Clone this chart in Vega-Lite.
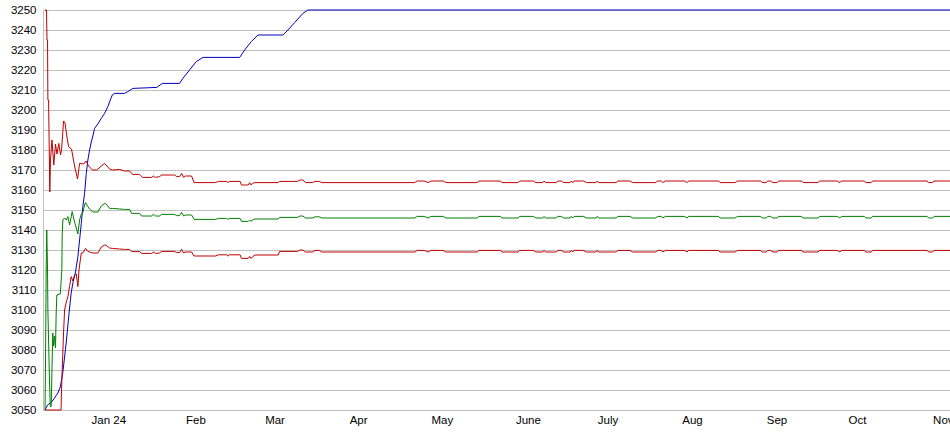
{
  "$schema": "https://vega.github.io/schema/vega-lite/v6.json",
  "autosize": {"type": "none"},
  "padding": {"left": 43, "top": 10, "right": 0, "bottom": 25},
  "width": 907,
  "height": 400,
  "background": "#ffffff",
  "config": {
    "view": {"stroke": null},
    "axis": {"labelFont": "Liberation Sans", "labelFontSize": 11.5, "labelColor": "#000000", "ticks": false, "tickSize": 0, "domainColor": "#c0c0c0", "gridColor": "#c0c0c0", "gridWidth": 1, "title": null}
  },
  "datasets": {
    "early": [
      {"s":"b","d":"2023-12-11T11:00Z","v":3050},
      {"s":"b","d":"2023-12-12T09:00Z","v":3052.5},
      {"s":"b","d":"2023-12-13T20:00Z","v":3054},
      {"s":"b","d":"2023-12-14T22:00Z","v":3056},
      {"s":"b","d":"2023-12-16T04:00Z","v":3058.5},
      {"s":"b","d":"2023-12-17T01:00Z","v":3061.5},
      {"s":"b","d":"2023-12-17T12:00Z","v":3065},
      {"s":"b","d":"2023-12-18T00:00Z","v":3069},
      {"s":"b","d":"2023-12-18T15:00Z","v":3076.5},
      {"s":"b","d":"2023-12-19T06:00Z","v":3084},
      {"s":"b","d":"2023-12-19T20:00Z","v":3092.5},
      {"s":"b","d":"2023-12-20T11:00Z","v":3101},
      {"s":"b","d":"2023-12-21T01:00Z","v":3108.5},
      {"s":"b","d":"2023-12-21T16:00Z","v":3113.5},
      {"s":"b","d":"2023-12-22T15:00Z","v":3119},
      {"s":"b","d":"2023-12-23T12:00Z","v":3126.7},
      {"s":"b","d":"2023-12-24T03:00Z","v":3135},
      {"s":"b","d":"2023-12-24T18:00Z","v":3143.3},
      {"s":"b","d":"2023-12-25T08:00Z","v":3151.7},
      {"s":"b","d":"2023-12-25T23:00Z","v":3158.3},
      {"s":"b","d":"2023-12-26T14:00Z","v":3168.3},
      {"s":"b","d":"2023-12-27T04:00Z","v":3175},
      {"s":"b","d":"2023-12-27T19:00Z","v":3180},
      {"s":"b","d":"2023-12-28T10:00Z","v":3184},
      {"s":"b","d":"2023-12-29T00:00Z","v":3187},
      {"s":"b","d":"2023-12-29T15:00Z","v":3190.8},
      {"s":"b","d":"2023-12-30T20:00Z","v":3193},
      {"s":"b","d":"2024-01-01T02:00Z","v":3195.8},
      {"s":"b","d":"2024-01-02T07:00Z","v":3198.3},
      {"s":"b","d":"2024-01-03T12:00Z","v":3201.7},
      {"s":"b","d":"2024-01-04T09:00Z","v":3205},
      {"s":"b","d":"2024-01-05T03:00Z","v":3207.5},
      {"s":"b","d":"2024-01-05T23:00Z","v":3208.3},
      {"s":"b","d":"2024-01-09T15:00Z","v":3208.3},
      {"s":"b","d":"2024-01-10T20:00Z","v":3209.2},
      {"s":"b","d":"2024-01-12T16:00Z","v":3210.8},
      {"s":"b","d":"2024-01-21T11:00Z","v":3211.3},
      {"s":"b","d":"2024-01-23T11:00Z","v":3213.3},
      {"s":"b","d":"2024-01-29T19:00Z","v":3213.3},
      {"s":"b","d":"2024-01-31T00:00Z","v":3215.8},
      {"s":"b","d":"2024-02-02T11:00Z","v":3220},
      {"s":"b","d":"2024-02-04T22:00Z","v":3224.2},
      {"s":"b","d":"2024-02-07T09:00Z","v":3226.3},
      {"s":"b","d":"2024-02-20T20:00Z","v":3226.3},
      {"s":"b","d":"2024-02-22T16:00Z","v":3230},
      {"s":"b","d":"2024-02-25T03:00Z","v":3234.2},
      {"s":"b","d":"2024-02-27T13:00Z","v":3237.5},
      {"s":"b","d":"2024-03-07T17:00Z","v":3237.5},
      {"s":"b","d":"2024-03-09T13:00Z","v":3240},
      {"s":"b","d":"2024-03-12T00:00Z","v":3243.7},
      {"s":"b","d":"2024-03-15T01:00Z","v":3248.3},
      {"s":"b","d":"2024-03-16T21:00Z","v":3250},
      {"s":"b","d":"2024-11-08T00:00Z","v":3250},

      {"s":"u","d":"2023-12-11T09:00Z","v":3250},
      {"s":"u","d":"2023-12-12T00:00Z","v":3250},
      {"s":"u","d":"2023-12-12T04:00Z","v":3235},
      {"s":"u","d":"2023-12-12T09:00Z","v":3235},
      {"s":"u","d":"2023-12-12T12:00Z","v":3205},
      {"s":"u","d":"2023-12-12T18:00Z","v":3205},
      {"s":"u","d":"2023-12-13T05:00Z","v":3159},
      {"s":"u","d":"2023-12-13T11:00Z","v":3175},
      {"s":"u","d":"2023-12-14T00:00Z","v":3185},
      {"s":"u","d":"2023-12-14T16:00Z","v":3172.5},
      {"s":"u","d":"2023-12-15T07:00Z","v":3183},
      {"s":"u","d":"2023-12-15T20:00Z","v":3178},
      {"s":"u","d":"2023-12-16T12:00Z","v":3183.3},
      {"s":"u","d":"2023-12-17T03:00Z","v":3177.5},
      {"s":"u","d":"2023-12-17T12:00Z","v":3179.7},
      {"s":"u","d":"2023-12-18T06:00Z","v":3194.5},
      {"s":"u","d":"2023-12-18T19:00Z","v":3193.5},
      {"s":"u","d":"2023-12-19T13:00Z","v":3186},
      {"s":"u","d":"2023-12-20T02:00Z","v":3181.7},
      {"s":"u","d":"2023-12-21T04:00Z","v":3180.5},
      {"s":"u","d":"2023-12-22T07:00Z","v":3172},
      {"s":"u","d":"2023-12-23T09:00Z","v":3165.5},
      {"s":"u","d":"2023-12-24T03:00Z","v":3173.3},
      {"s":"u","d":"2023-12-25T14:00Z","v":3173},
      {"s":"u","d":"2023-12-26T12:00Z","v":3174.5},
      {"s":"u","d":"2023-12-27T10:00Z","v":3172},
      {"s":"u","d":"2023-12-28T21:00Z","v":3170},
      {"s":"u","d":"2023-12-30T08:00Z","v":3170},
      {"s":"u","d":"2023-12-31T06:00Z","v":3171},
      {"s":"u","d":"2024-01-02T07:00Z","v":3173.3},
      {"s":"u","d":"2024-01-04T03:00Z","v":3170.5},
      {"s":"u","d":"2024-01-05T05:00Z","v":3170},
      {"s":"u","d":"2024-01-07T19:00Z","v":3170.3},
      {"s":"u","d":"2024-01-09T15:00Z","v":3169.5},
      {"s":"u","d":"2024-01-11T11:00Z","v":3169.5},
      {"s":"u","d":"2024-01-12T13:00Z","v":3167.8},
      {"s":"u","d":"2024-01-15T03:00Z","v":3167.8},
      {"s":"u","d":"2024-01-16T05:00Z","v":3166.3},
      {"s":"u","d":"2024-01-19T13:00Z","v":3166.3},
      {"s":"u","d":"2024-01-20T06:00Z","v":3167},
      {"s":"u","d":"2024-01-21T00:00Z","v":3166.3},
      {"s":"u","d":"2024-01-22T11:00Z","v":3166.7},
      {"s":"u","d":"2024-01-23T05:00Z","v":3167.5},
      {"s":"u","d":"2024-01-28T00:00Z","v":3167.5},
      {"s":"u","d":"2024-01-28T17:00Z","v":3166.7},
      {"s":"u","d":"2024-01-29T19:00Z","v":3166.7},
      {"s":"u","d":"2024-01-30T13:00Z","v":3168.3},
      {"s":"u","d":"2024-01-31T07:00Z","v":3166.3},
      {"s":"u","d":"2024-02-01T00:00Z","v":3167},
      {"s":"u","d":"2024-02-03T05:00Z","v":3167},
      {"s":"u","d":"2024-02-04T03:00Z","v":3163.7},

      {"s":"m","d":"2023-12-11T11:00Z","v":3050},
      {"s":"m","d":"2023-12-11T15:00Z","v":3072},
      {"s":"m","d":"2023-12-11T21:00Z","v":3120},
      {"s":"m","d":"2023-12-12T02:00Z","v":3140},
      {"s":"m","d":"2023-12-12T09:00Z","v":3120},
      {"s":"m","d":"2023-12-12T12:00Z","v":3100},
      {"s":"m","d":"2023-12-13T02:00Z","v":3065},
      {"s":"m","d":"2023-12-13T09:00Z","v":3051.7},
      {"s":"m","d":"2023-12-13T17:00Z","v":3051.7},
      {"s":"m","d":"2023-12-14T07:00Z","v":3088.5},
      {"s":"m","d":"2023-12-14T14:00Z","v":3082},
      {"s":"m","d":"2023-12-14T22:00Z","v":3087},
      {"s":"m","d":"2023-12-15T07:00Z","v":3081},
      {"s":"m","d":"2023-12-15T13:00Z","v":3098.5},
      {"s":"m","d":"2023-12-15T19:00Z","v":3107.5},
      {"s":"m","d":"2023-12-17T01:00Z","v":3108},
      {"s":"m","d":"2023-12-17T15:00Z","v":3120},
      {"s":"m","d":"2023-12-17T18:00Z","v":3138},
      {"s":"m","d":"2023-12-18T00:00Z","v":3145},
      {"s":"m","d":"2023-12-18T15:00Z","v":3146},
      {"s":"m","d":"2023-12-19T06:00Z","v":3145},
      {"s":"m","d":"2023-12-19T20:00Z","v":3146.7},
      {"s":"m","d":"2023-12-20T11:00Z","v":3142.5},
      {"s":"m","d":"2023-12-21T10:00Z","v":3149.2},
      {"s":"m","d":"2023-12-22T07:00Z","v":3144},
      {"s":"m","d":"2023-12-22T22:00Z","v":3141},
      {"s":"m","d":"2023-12-23T12:00Z","v":3138},
      {"s":"m","d":"2023-12-24T03:00Z","v":3145},
      {"s":"m","d":"2023-12-24T18:00Z","v":3148},
      {"s":"m","d":"2023-12-25T08:00Z","v":3148.7},
      {"s":"m","d":"2023-12-25T23:00Z","v":3152.5},
      {"s":"m","d":"2023-12-26T07:00Z","v":3153.7},
      {"s":"m","d":"2023-12-27T04:00Z","v":3151.7},
      {"s":"m","d":"2023-12-27T19:00Z","v":3150.5},
      {"s":"m","d":"2023-12-29T00:00Z","v":3149},
      {"s":"m","d":"2023-12-30T20:00Z","v":3149},
      {"s":"m","d":"2024-01-01T02:00Z","v":3152},
      {"s":"m","d":"2024-01-02T07:00Z","v":3153.3},
      {"s":"m","d":"2024-01-02T22:00Z","v":3153},
      {"s":"m","d":"2024-01-04T03:00Z","v":3150.8},
      {"s":"m","d":"2024-01-05T05:00Z","v":3150.8},
      {"s":"m","d":"2024-01-07T19:00Z","v":3150.5},
      {"s":"m","d":"2024-01-09T15:00Z","v":3150.3},
      {"s":"m","d":"2024-01-11T11:00Z","v":3150.3},
      {"s":"m","d":"2024-01-12T05:00Z","v":3148.3},
      {"s":"m","d":"2024-01-15T03:00Z","v":3148.3},
      {"s":"m","d":"2024-01-15T21:00Z","v":3147},
      {"s":"m","d":"2024-01-19T13:00Z","v":3147},
      {"s":"m","d":"2024-01-20T06:00Z","v":3147.8},
      {"s":"m","d":"2024-01-21T00:00Z","v":3147},
      {"s":"m","d":"2024-01-22T11:00Z","v":3147},
      {"s":"m","d":"2024-01-23T05:00Z","v":3147.8},
      {"s":"m","d":"2024-01-28T00:00Z","v":3147.8},
      {"s":"m","d":"2024-01-28T17:00Z","v":3147.2},
      {"s":"m","d":"2024-01-29T19:00Z","v":3147.2},
      {"s":"m","d":"2024-01-30T13:00Z","v":3148.8},
      {"s":"m","d":"2024-01-31T07:00Z","v":3147},
      {"s":"m","d":"2024-02-01T00:00Z","v":3147.5},
      {"s":"m","d":"2024-02-03T05:00Z","v":3147.5},
      {"s":"m","d":"2024-02-04T03:00Z","v":3145.3},

      {"s":"l","d":"2023-12-11T09:00Z","v":3050},
      {"s":"l","d":"2023-12-17T08:00Z","v":3050},
      {"s":"l","d":"2023-12-17T11:00Z","v":3057.5},
      {"s":"l","d":"2023-12-17T18:00Z","v":3070},
      {"s":"l","d":"2023-12-18T06:00Z","v":3088.5},
      {"s":"l","d":"2023-12-18T15:00Z","v":3100},
      {"s":"l","d":"2023-12-19T06:00Z","v":3104},
      {"s":"l","d":"2023-12-19T20:00Z","v":3106.7},
      {"s":"l","d":"2023-12-20T11:00Z","v":3111.7},
      {"s":"l","d":"2023-12-21T01:00Z","v":3116.7},
      {"s":"l","d":"2023-12-21T16:00Z","v":3114.5},
      {"s":"l","d":"2023-12-22T07:00Z","v":3117.5},
      {"s":"l","d":"2023-12-22T22:00Z","v":3118},
      {"s":"l","d":"2023-12-23T12:00Z","v":3111.7},
      {"s":"l","d":"2023-12-23T22:00Z","v":3120},
      {"s":"l","d":"2023-12-24T07:00Z","v":3124},
      {"s":"l","d":"2023-12-24T18:00Z","v":3128.5},
      {"s":"l","d":"2023-12-25T08:00Z","v":3128.5},
      {"s":"l","d":"2023-12-25T23:00Z","v":3130},
      {"s":"l","d":"2023-12-26T07:00Z","v":3130.8},
      {"s":"l","d":"2023-12-27T04:00Z","v":3129.3},
      {"s":"l","d":"2023-12-29T00:00Z","v":3128.5},
      {"s":"l","d":"2023-12-30T20:00Z","v":3128.5},
      {"s":"l","d":"2024-01-01T02:00Z","v":3131.5},
      {"s":"l","d":"2024-01-02T07:00Z","v":3132.5},
      {"s":"l","d":"2024-01-02T22:00Z","v":3132.3},
      {"s":"l","d":"2024-01-04T03:00Z","v":3131},
      {"s":"l","d":"2024-01-05T05:00Z","v":3130.8},
      {"s":"l","d":"2024-01-07T19:00Z","v":3130.5},
      {"s":"l","d":"2024-01-09T15:00Z","v":3130.3},
      {"s":"l","d":"2024-01-11T11:00Z","v":3130.3},
      {"s":"l","d":"2024-01-12T05:00Z","v":3129.2},
      {"s":"l","d":"2024-01-15T03:00Z","v":3129.2},
      {"s":"l","d":"2024-01-15T21:00Z","v":3128.3},
      {"s":"l","d":"2024-01-19T13:00Z","v":3128.3},
      {"s":"l","d":"2024-01-20T06:00Z","v":3129},
      {"s":"l","d":"2024-01-21T00:00Z","v":3128.3},
      {"s":"l","d":"2024-01-22T11:00Z","v":3128.5},
      {"s":"l","d":"2024-01-23T05:00Z","v":3129.3},
      {"s":"l","d":"2024-01-28T00:00Z","v":3129.3},
      {"s":"l","d":"2024-01-28T17:00Z","v":3128.7},
      {"s":"l","d":"2024-01-29T19:00Z","v":3128.7},
      {"s":"l","d":"2024-01-30T13:00Z","v":3130.3},
      {"s":"l","d":"2024-01-31T07:00Z","v":3128.5},
      {"s":"l","d":"2024-02-01T00:00Z","v":3129},
      {"s":"l","d":"2024-02-03T05:00Z","v":3129},
      {"s":"l","d":"2024-02-04T03:00Z","v":3127}
    ],
    "flat": [
      {"d":"2024-02-04T03:00Z","u":3163.7,"m":3145.3,"l":3127},
      {"d":"2024-02-12T00:00Z","u":3163.7,"m":3145.3,"l":3127},
      {"d":"2024-02-13T00:00Z","u":3164.3,"m":3145.8,"l":3127.6},
      {"d":"2024-02-16T00:00Z","u":3164.3,"m":3145.8,"l":3127.6},
      {"d":"2024-02-16T12:00Z","u":3163.7,"m":3145.3,"l":3127},
      {"d":"2024-02-17T00:00Z","u":3164.3,"m":3145.8,"l":3127.6},
      {"d":"2024-02-21T00:00Z","u":3164.3,"m":3145.8,"l":3127.6},
      {"d":"2024-02-21T12:00Z","u":3162.5,"m":3144.3,"l":3125.8},
      {"d":"2024-02-24T00:00Z","u":3162.5,"m":3144.3,"l":3125.8},
      {"d":"2024-02-24T12:00Z","u":3163.7,"m":3145,"l":3126.8},
      {"d":"2024-02-25T00:00Z","u":3162.5,"m":3144.3,"l":3125.8},
      {"d":"2024-02-25T12:00Z","u":3163.3,"m":3145,"l":3126.5},
      {"d":"2024-02-26T12:00Z","u":3163.7,"m":3145.5,"l":3127.5},
      {"d":"2024-03-06T00:00Z","u":3163.7,"m":3145.5,"l":3127.5},
      {"d":"2024-03-06T12:00Z","u":3164.3,"m":3146.3,"l":3129.3},
      {"d":"2024-03-13T00:00Z","u":3164.3,"m":3146.3,"l":3129.3},
      {"d":"2024-03-14T00:00Z","u":3165,"m":3147,"l":3130},
      {"d":"2024-03-15T00:00Z","u":3165,"m":3147,"l":3130},
      {"d":"2024-03-16T00:00Z","u":3163.7,"m":3146,"l":3129},
      {"d":"2024-03-18T12:00Z","u":3163.7,"m":3146,"l":3129},
      {"d":"2024-03-19T12:00Z","u":3164.3,"m":3146.6,"l":3129.8},
      {"d":"2024-03-21T00:00Z","u":3164.3,"m":3146.6,"l":3129.8},
      {"d":"2024-03-22T00:00Z","u":3163.7,"m":3146,"l":3129},
      {"d":"2024-04-25T00:00Z","u":3163.7,"m":3146,"l":3129},
      {"d":"2024-04-26T00:00Z","u":3164.5,"m":3146.8,"l":3129.8},
      {"d":"2024-04-28T12:00Z","u":3164.5,"m":3146.8,"l":3129.8},
      {"d":"2024-04-30T00:00Z","u":3163.7,"m":3146,"l":3129},
      {"d":"2024-05-01T00:00Z","u":3164.5,"m":3146.8,"l":3129.8},
      {"d":"2024-05-05T12:00Z","u":3164.5,"m":3146.8,"l":3129.8},
      {"d":"2024-05-06T12:00Z","u":3163.7,"m":3146,"l":3129},
      {"d":"2024-05-18T00:00Z","u":3163.7,"m":3146,"l":3129},
      {"d":"2024-05-18T12:00Z","u":3164.5,"m":3146.8,"l":3129.8},
      {"d":"2024-05-26T12:00Z","u":3164.5,"m":3146.8,"l":3129.8},
      {"d":"2024-05-27T00:00Z","u":3163.7,"m":3146,"l":3129},
      {"d":"2024-06-02T00:00Z","u":3163.7,"m":3146,"l":3129},
      {"d":"2024-06-02T12:00Z","u":3164.5,"m":3146.8,"l":3129.8},
      {"d":"2024-06-07T12:00Z","u":3164.5,"m":3146.8,"l":3129.8},
      {"d":"2024-06-08T12:00Z","u":3163.7,"m":3146,"l":3129},
      {"d":"2024-06-11T00:00Z","u":3163.7,"m":3146,"l":3129},
      {"d":"2024-06-11T12:00Z","u":3164.5,"m":3146.8,"l":3129.8},
      {"d":"2024-06-12T00:00Z","u":3163.7,"m":3146,"l":3129},
      {"d":"2024-06-16T00:00Z","u":3163.7,"m":3146,"l":3129},
      {"d":"2024-06-16T12:00Z","u":3164.5,"m":3146.8,"l":3129.8},
      {"d":"2024-06-18T00:00Z","u":3164.5,"m":3146.8,"l":3129.8},
      {"d":"2024-06-18T12:00Z","u":3163.7,"m":3146,"l":3129},
      {"d":"2024-06-21T00:00Z","u":3163.7,"m":3146,"l":3129},
      {"d":"2024-06-21T12:00Z","u":3164.5,"m":3146.8,"l":3129.8},
      {"d":"2024-06-22T00:00Z","u":3163.7,"m":3146,"l":3129},
      {"d":"2024-06-22T12:00Z","u":3164.5,"m":3146.8,"l":3129.8},
      {"d":"2024-06-26T00:00Z","u":3164.5,"m":3146.8,"l":3129.8},
      {"d":"2024-06-27T00:00Z","u":3163.7,"m":3146,"l":3129},
      {"d":"2024-06-30T12:00Z","u":3163.7,"m":3146,"l":3129},
      {"d":"2024-07-01T00:00Z","u":3164.5,"m":3146.8,"l":3129.8},
      {"d":"2024-07-01T12:00Z","u":3163.7,"m":3146,"l":3129},
      {"d":"2024-07-08T00:00Z","u":3163.7,"m":3146,"l":3129},
      {"d":"2024-07-08T12:00Z","u":3164.5,"m":3146.8,"l":3129.8},
      {"d":"2024-07-13T00:00Z","u":3164.5,"m":3146.8,"l":3129.8},
      {"d":"2024-07-14T00:00Z","u":3163.7,"m":3146,"l":3129},
      {"d":"2024-07-22T12:00Z","u":3163.7,"m":3146,"l":3129},
      {"d":"2024-07-23T00:00Z","u":3164.5,"m":3146.8,"l":3129.8},
      {"d":"2024-07-24T12:00Z","u":3164.5,"m":3146.8,"l":3129.8},
      {"d":"2024-07-25T00:00Z","u":3163.7,"m":3146,"l":3129},
      {"d":"2024-07-26T00:00Z","u":3164.5,"m":3146.8,"l":3129.8},
      {"d":"2024-08-02T00:00Z","u":3164.5,"m":3146.8,"l":3129.8},
      {"d":"2024-08-03T00:00Z","u":3163.7,"m":3146,"l":3129},
      {"d":"2024-08-03T12:00Z","u":3164.5,"m":3146.8,"l":3129.8},
      {"d":"2024-08-14T12:00Z","u":3164.5,"m":3146.8,"l":3129.8},
      {"d":"2024-08-15T00:00Z","u":3163.7,"m":3146,"l":3129},
      {"d":"2024-08-20T12:00Z","u":3163.7,"m":3146,"l":3129},
      {"d":"2024-08-21T12:00Z","u":3164.5,"m":3146.8,"l":3129.8},
      {"d":"2024-08-30T00:00Z","u":3164.5,"m":3146.8,"l":3129.8},
      {"d":"2024-08-30T12:00Z","u":3163.7,"m":3146,"l":3129},
      {"d":"2024-09-01T00:00Z","u":3163.7,"m":3146,"l":3129},
      {"d":"2024-09-01T12:00Z","u":3164.5,"m":3146.8,"l":3129.8},
      {"d":"2024-09-02T12:00Z","u":3164.5,"m":3146.8,"l":3129.8},
      {"d":"2024-09-03T12:00Z","u":3163.7,"m":3146,"l":3129},
      {"d":"2024-09-05T00:00Z","u":3163.7,"m":3146,"l":3129},
      {"d":"2024-09-05T12:00Z","u":3164.5,"m":3146.8,"l":3129.8},
      {"d":"2024-09-14T00:00Z","u":3164.5,"m":3146.8,"l":3129.8},
      {"d":"2024-09-14T12:00Z","u":3163.7,"m":3146,"l":3129},
      {"d":"2024-09-20T00:00Z","u":3163.7,"m":3146,"l":3129},
      {"d":"2024-09-20T12:00Z","u":3164.5,"m":3146.8,"l":3129.8},
      {"d":"2024-09-27T00:00Z","u":3164.5,"m":3146.8,"l":3129.8},
      {"d":"2024-09-28T00:00Z","u":3163.7,"m":3146,"l":3129},
      {"d":"2024-09-28T12:00Z","u":3164.5,"m":3146.8,"l":3129.8},
      {"d":"2024-10-07T00:00Z","u":3164.5,"m":3146.8,"l":3129.8},
      {"d":"2024-10-07T12:00Z","u":3163.7,"m":3146,"l":3129},
      {"d":"2024-10-09T12:00Z","u":3163.7,"m":3146,"l":3129},
      {"d":"2024-10-10T00:00Z","u":3164.5,"m":3146.8,"l":3129.8},
      {"d":"2024-10-30T00:00Z","u":3164.5,"m":3146.8,"l":3129.8},
      {"d":"2024-10-30T12:00Z","u":3163.7,"m":3146,"l":3129},
      {"d":"2024-11-01T00:00Z","u":3163.7,"m":3146,"l":3129},
      {"d":"2024-11-01T12:00Z","u":3164.5,"m":3146.8,"l":3129.8},
      {"d":"2024-11-08T00:00Z","u":3164.5,"m":3146.8,"l":3129.8}
    ]
  },
  "encoding": {
    "x": {
      "field": "d", "type": "temporal",
      "scale": {"type": "utc", "domain": [{"year": 2023, "month": 12, "date": 10, "hours": 17, "utc": true}, {"year": 2024, "month": 11, "date": 7, "hours": 9, "utc": true}]},
      "axis": {
        "grid": false,
        "domain": false,
        "values": [
          {"year": 2024, "month": 1, "date": 1, "utc": true},
          {"year": 2024, "month": 2, "date": 1, "utc": true},
          {"year": 2024, "month": 3, "date": 1, "utc": true},
          {"year": 2024, "month": 4, "date": 1, "utc": true},
          {"year": 2024, "month": 5, "date": 1, "utc": true},
          {"year": 2024, "month": 6, "date": 1, "utc": true},
          {"year": 2024, "month": 7, "date": 1, "utc": true},
          {"year": 2024, "month": 8, "date": 1, "utc": true},
          {"year": 2024, "month": 9, "date": 1, "utc": true},
          {"year": 2024, "month": 10, "date": 1, "utc": true},
          {"year": 2024, "month": 11, "date": 1, "utc": true}
        ],
        "labelExpr": "['Jan 24','Feb','Mar','Apr','May','June','July','Aug','Sep','Oct','Nov','Dec'][utcmonth(datum.value)]",
        "labelAlign": "left",
        "labelBaseline": "top",
        "labelPadding": 4,
        "labelOffset": {"condition": {"test": "utcmonth(datum.value) === 0", "value": -10}, "value": 0},
        "labelOverlap": false,
        "labelFlush": false
      }
    },
    "y": {
      "field": "v", "type": "quantitative",
      "scale": {"domain": [3050, 3250], "nice": false, "zero": false},
      "axis": {
        "values": [3050,3060,3070,3080,3090,3100,3110,3120,3130,3140,3150,3160,3170,3180,3190,3200,3210,3220,3230,3240,3250],
        "format": "d",
        "grid": true,
        "domain": true,
        "labelPadding": 7,
        "labelOverlap": false,
        "labelFlush": false
      }
    },
    "color": {
      "field": "s", "type": "nominal",
      "scale": {"domain": ["b","u","m","l"], "range": ["#0000c0","#c00000","#008000","#c00000"]},
      "legend": null
    }
  },
  "layer": [
    {
      "data": {"name": "early"},
      "mark": {"type": "line", "strokeWidth": 1, "interpolate": "linear"}
    },
    {
      "data": {"name": "flat"},
      "transform": [{"fold": ["u","m","l"], "as": ["s","v"]}],
      "mark": {"type": "line", "strokeWidth": 1, "interpolate": "linear"}
    }
  ]
}
